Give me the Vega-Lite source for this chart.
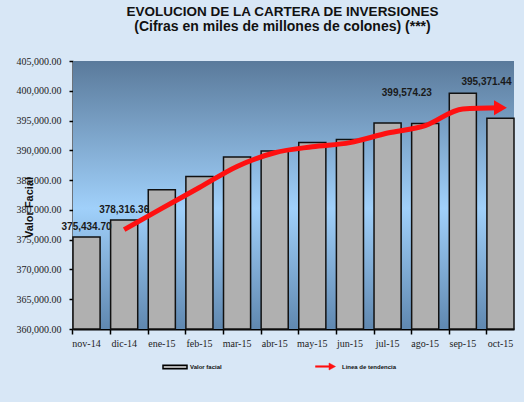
{
  "$schema": "https://vega.github.io/schema/vega-lite/v6.json",
  "width": 441,
  "height": 268,
  "autosize": {"type": "none"},
  "padding": {"left": 73, "top": 61, "right": 10, "bottom": 73},
  "background": "#d8e7f6",
  "title": {
    "text": "EVOLUCION DE LA CARTERA DE INVERSIONES",
    "subtitle": "(Cifras en miles de millones de colones) (***)",
    "font": "Liberation Sans",
    "subtitleFont": "Liberation Sans",
    "fontSize": 13.5,
    "subtitleFontSize": 14,
    "fontWeight": "bold",
    "subtitleFontWeight": "bold",
    "color": "#111111",
    "subtitleColor": "#111111",
    "anchor": "middle",
    "dx": -11,
    "offset": 22,
    "subtitlePadding": 1.5
  },
  "data": {
    "values": [
      {"mes": "nov-14", "valor": 375434.70, "tendencia": null},
      {"mes": "dic-14", "valor": 378316.36, "tendencia": 376675},
      {"mes": "ene-15", "valor": 383400, "tendencia": 380250},
      {"mes": "feb-15", "valor": 385600, "tendencia": 383750},
      {"mes": "mar-15", "valor": 388900, "tendencia": 387300},
      {"mes": "abr-15", "valor": 389900, "tendencia": 389600},
      {"mes": "may-15", "valor": 391300, "tendencia": 390600},
      {"mes": "jun-15", "valor": 391800, "tendencia": 391300},
      {"mes": "jul-15", "valor": 394600, "tendencia": 392900},
      {"mes": "ago-15", "valor": 394500, "tendencia": 394150},
      {"mes": "sep-15", "valor": 399574.23, "tendencia": 396950},
      {"mes": "oct-15", "valor": 395371.44, "tendencia": 397150}
    ]
  },
  "layer": [
    {
      "data": {"values": [{"fondo": 1}]},
      "mark": {
        "type": "rect",
        "color": {
          "gradient": "linear",
          "x1": 0, "y1": 0, "x2": 0, "y2": 1,
          "stops": [
            {"offset": 0, "color": "#5a7a9b"},
            {"offset": 0.55, "color": "#a0d0fa"},
            {"offset": 1, "color": "#6088b0"}
          ]
        }
      },
      "encoding": {
        "y": {
          "datum": 360000,
          "type": "quantitative",
          "scale": {"domain": [360000, 405000], "zero": false, "nice": false}
        },
        "y2": {"datum": 405000}
      }
    },
    {
      "mark": {"type": "bar", "stroke": "#111111", "strokeWidth": 1.5},
      "encoding": {
        "x": {
          "field": "mes",
          "type": "ordinal",
          "sort": null,
          "scale": {"paddingInner": 0.28, "paddingOuter": 0},
          "axis": {
            "title": null,
            "labelAngle": 0,
            "labelFont": "Liberation Serif",
            "labelFontSize": 10,
            "labelColor": "#222222",
            "domainColor": "#000000",
            "domainWidth": 2,
            "tickColor": "#000000",
            "tickWidth": 1.5,
            "tickSize": 5,
            "bandPosition": 0,
            "labelPadding": 4
          }
        },
        "y": {
          "field": "valor",
          "type": "quantitative",
          "scale": {"domain": [360000, 405000], "zero": false, "nice": false},
          "axis": {
            "format": ",.2f",
            "title": "Valor Facial"
          }
        },
        "y2": {"datum": 360000},
        "fill": {
          "datum": "Valor facial",
          "type": "nominal",
          "scale": {"range": ["#b0b0b0"]},
          "legend": {
            "orient": "none",
            "legendX": 89,
            "legendY": 293,
            "padding": 0,
            "title": null,
            "labelFontSize": 6,
            "labelFont": "Liberation Sans",
            "labelFontWeight": "bold",
            "labelColor": "#111111",
            "labelOffset": 2,
            "symbolType": "M-1,-0.15L1,-0.15L1,0.15L-1,0.15Z",
            "symbolSize": 576,
            "symbolStrokeColor": "#000000",
            "symbolStrokeWidth": 1.5,
            "symbolFillColor": "#999999"
          }
        }
      }
    },
    {
      "mark": {"type": "line", "strokeWidth": 5, "interpolate": "monotone", "strokeCap": "butt"},
      "encoding": {
        "x": {"field": "mes", "type": "ordinal", "sort": null},
        "y": {"field": "tendencia", "type": "quantitative"},
        "stroke": {
          "datum": "Linea de tendencia",
          "type": "nominal",
          "scale": {"range": ["#ff1010"]},
          "legend": {
            "orient": "none",
            "legendX": 242,
            "legendY": 295,
            "padding": 0,
            "title": null,
            "labelFontSize": 6,
            "labelFont": "Liberation Sans",
            "labelFontWeight": "bold",
            "labelColor": "#111111",
            "labelOffset": 6,
            "symbolType": "M-1,-0.08L0.35,-0.08L0.35,-0.35L1,0L0.35,0.35L0.35,0.08L-1,0.08Z",
            "symbolSize": 400,
            "symbolFillColor": "#ff1010",
            "symbolStrokeWidth": 0.5
          }
        }
      }
    },
    {
      "transform": [{"filter": "datum.mes === 'oct-15'"}],
      "mark": {"type": "point", "shape": "triangle-right", "filled": true, "color": "#ff1010", "opacity": 1, "size": 220, "dx": -6},
      "encoding": {
        "x": {"field": "mes", "type": "ordinal", "sort": null},
        "y": {"field": "tendencia", "type": "quantitative"}
      }
    },
    {
      "transform": [{"filter": "datum.mes === 'nov-14' || datum.mes === 'dic-14'"}],
      "mark": {"type": "text", "font": "Liberation Sans", "fontSize": 10, "fontWeight": "bold", "color": "#1a1a1a", "baseline": "middle", "dy": -10},
      "encoding": {
        "x": {"field": "mes", "type": "ordinal", "sort": null},
        "y": {"field": "valor", "type": "quantitative"},
        "text": {"field": "valor", "type": "quantitative", "format": ",.2f"}
      }
    },
    {
      "transform": [{"filter": "datum.mes === 'sep-15'"}],
      "mark": {"type": "text", "font": "Liberation Sans", "fontSize": 10, "fontWeight": "bold", "color": "#1a1a1a", "baseline": "middle", "dx": -56, "dy": 0},
      "encoding": {
        "x": {"field": "mes", "type": "ordinal", "sort": null},
        "y": {"field": "valor", "type": "quantitative"},
        "text": {"field": "valor", "type": "quantitative", "format": ",.2f"}
      }
    },
    {
      "transform": [{"filter": "datum.mes === 'oct-15'"}],
      "mark": {"type": "text", "font": "Liberation Sans", "fontSize": 10, "fontWeight": "bold", "color": "#1a1a1a", "baseline": "middle", "dx": -14, "dy": -36},
      "encoding": {
        "x": {"field": "mes", "type": "ordinal", "sort": null},
        "y": {"field": "valor", "type": "quantitative"},
        "text": {"field": "valor", "type": "quantitative", "format": ",.2f"}
      }
    }
  ],
  "config": {
    "view": {"stroke": null},
    "axisY": {
      "tickCount": 10,
      "labelOverlap": false,
      "grid": false,
      "labelFont": "Liberation Serif",
      "labelFontSize": 10,
      "labelColor": "#222222",
      "domainColor": "#000000",
      "domainWidth": 2,
      "tickColor": "#000000",
      "tickWidth": 1.5,
      "tickSize": 4,
      "labelPadding": 8,
      "titleFont": "Liberation Sans",
      "titleFontSize": 11,
      "titleFontWeight": "bold",
      "titleColor": "#111111",
      "titleX": -44,
      "titleY": 146,
      "titleAlign": "center",
      "titleBaseline": "middle"
    }
  }
}
